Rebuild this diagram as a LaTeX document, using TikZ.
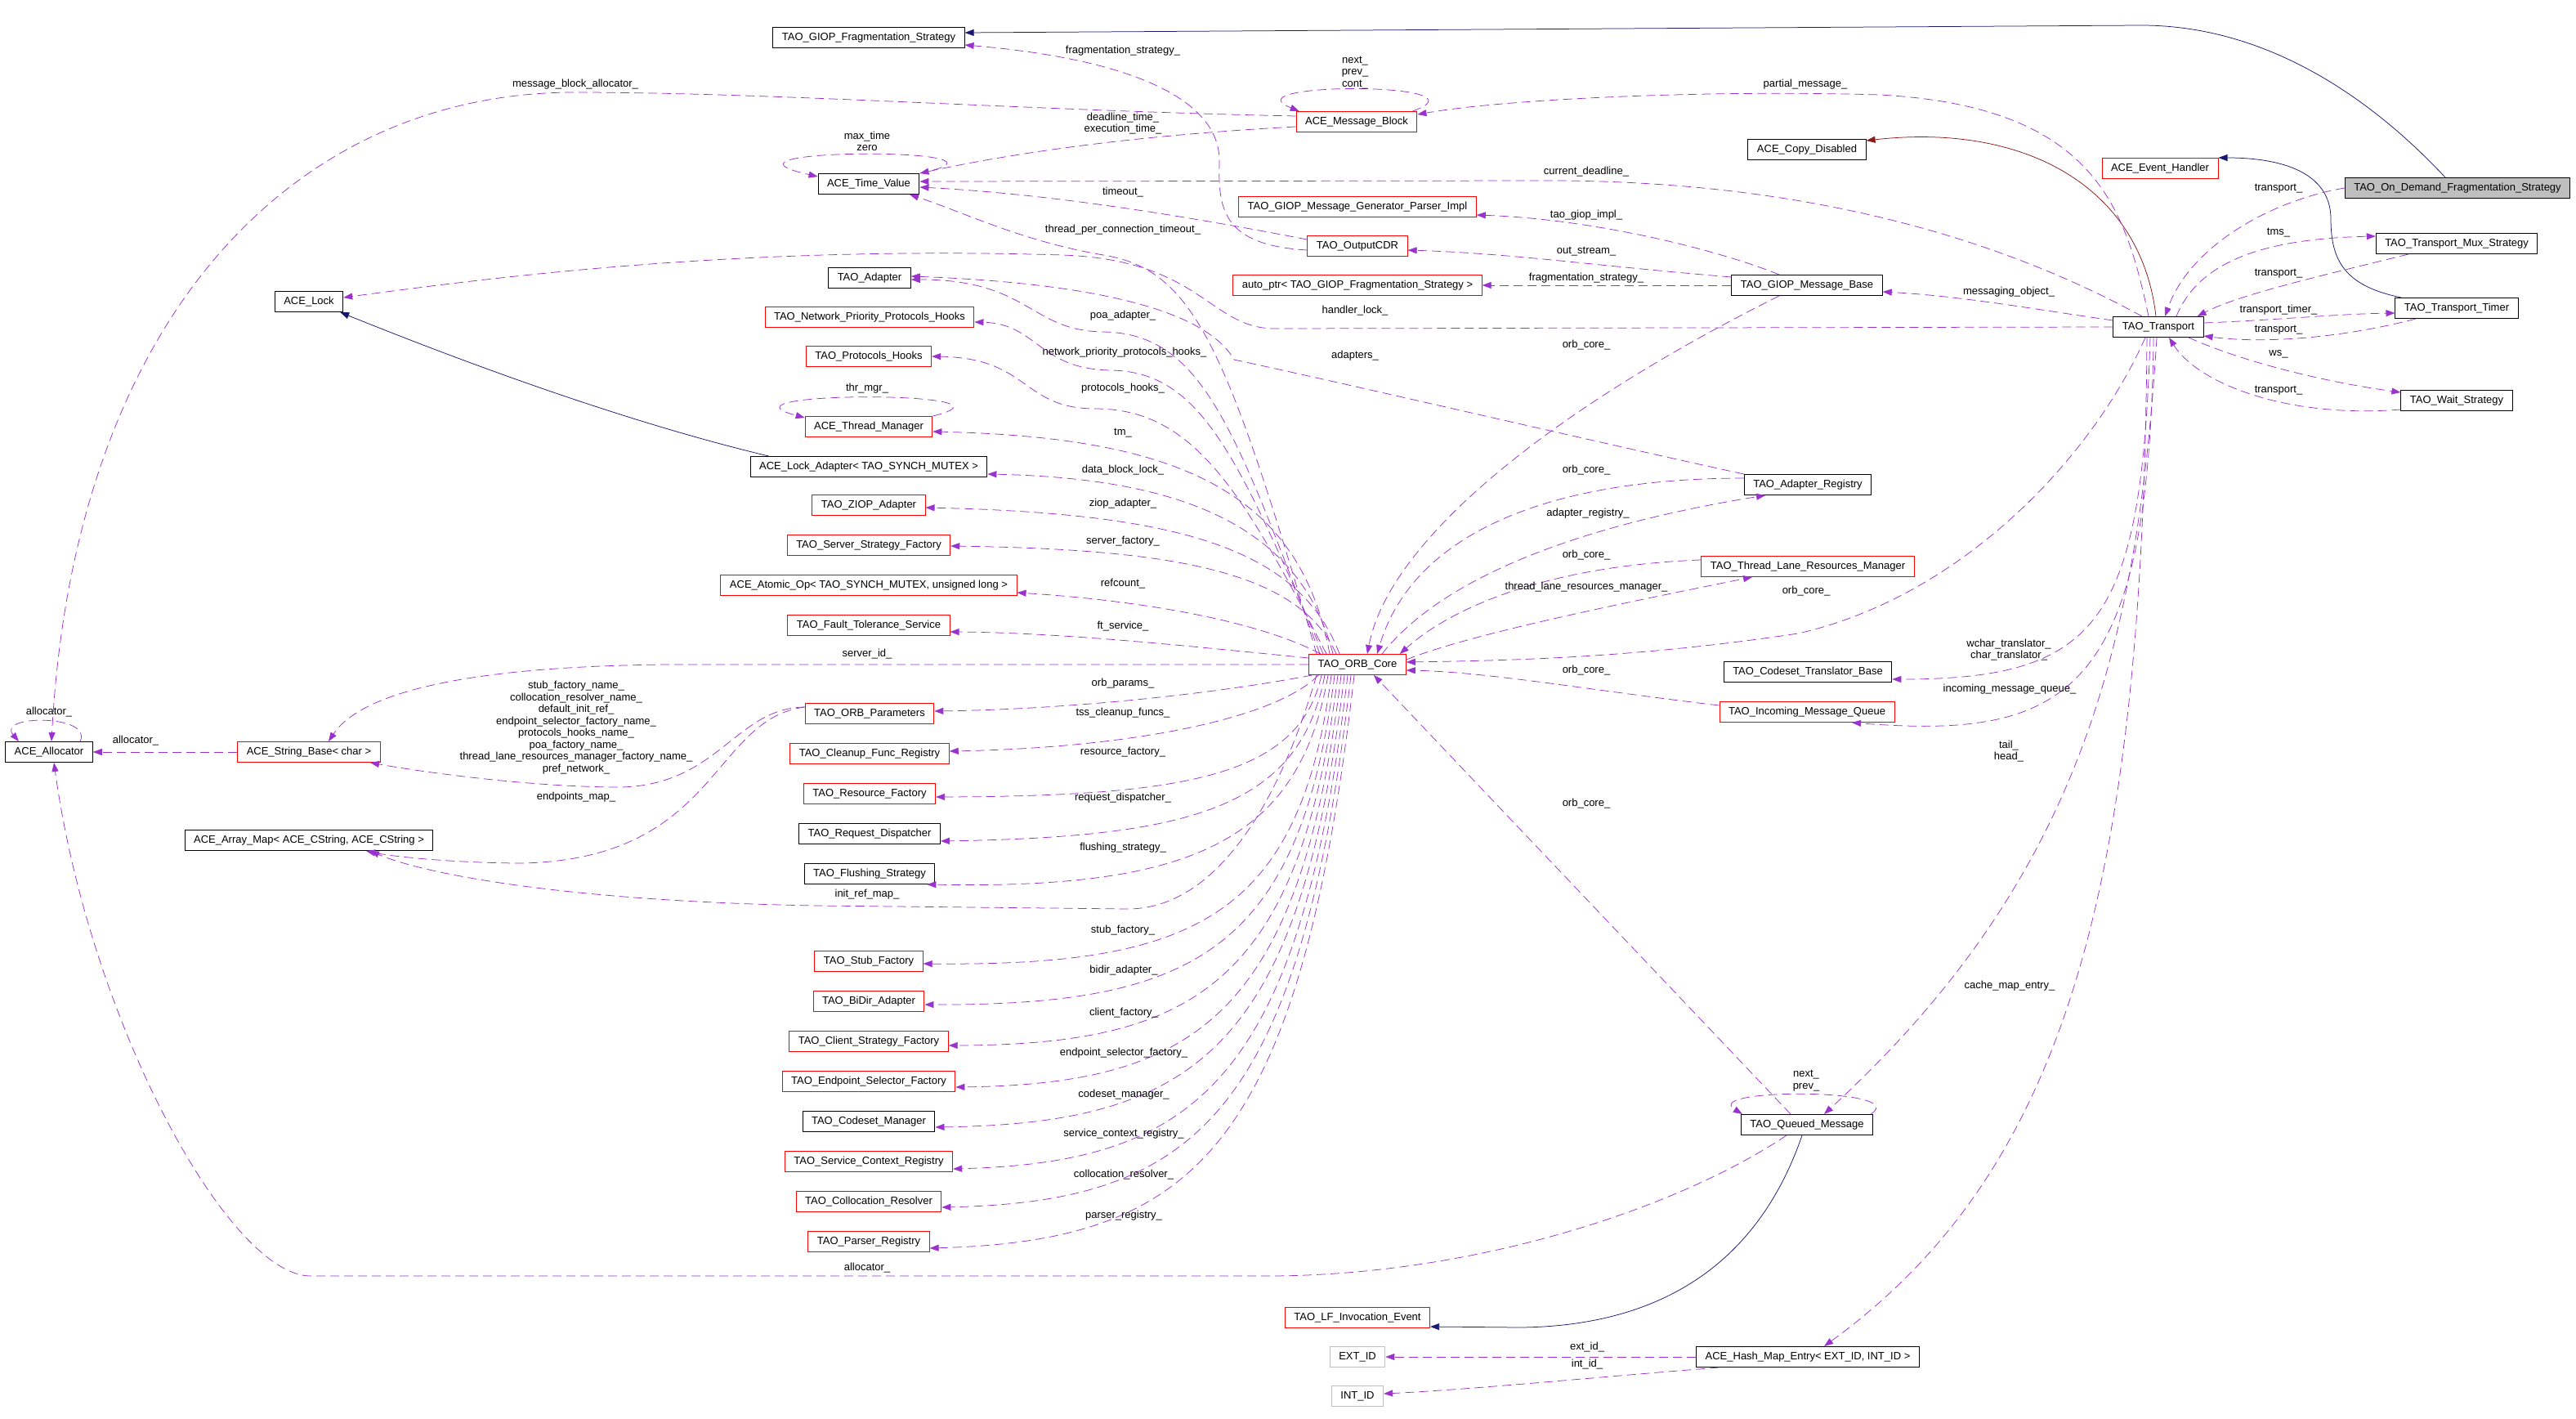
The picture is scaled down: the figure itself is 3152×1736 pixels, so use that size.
\documentclass[tikz,border=0pt]{standalone}
\usepackage{fontspec}
\setmainfont{Liberation Sans}
\usetikzlibrary{arrows.meta,positioning}
\definecolor{usecol}{HTML}{9A32CD}
\definecolor{inhcol}{HTML}{191970}
\definecolor{privcol}{HTML}{8B1A1A}
\definecolor{boxred}{HTML}{FF0000}
\definecolor{boxgrey}{HTML}{BFBFBF}
\newcommand{\diagfont}{\fontsize{13}{14.5}\selectfont}

\begin{document}
\begin{tikzpicture}[
  x=1pt, y=-1pt,
  cls/.style={draw, line width=1pt, fill=white, font=\diagfont, minimum height=25pt, inner xsep=11pt, inner ysep=0pt, text height=9.5pt, text depth=2.8pt},
  redcls/.style={cls, draw=boxred},
  greycls/.style={cls, draw=boxgrey},
  curcls/.style={cls, fill=boxgrey},
  lbl/.style={font=\diagfont, align=center, inner sep=0pt},
  member/.style={draw=usecol, line width=0.75pt, dash pattern=on 11pt off 6pt, -{Triangle[length=11pt,width=8pt]}},
  inh/.style={draw=inhcol, line width=0.75pt, -{Triangle[length=11pt,width=8pt]}},
  privinh/.style={draw=privcol, line width=0.75pt, -{Triangle[length=11pt,width=8pt]}},
  node distance=23pt
]
  \fill[white, use as bounding box] (0,0) rectangle (3152,1736);

  \node[cls] (gfs) at (1063,46) {TAO\_GIOP\_Fragmentation\_Strategy};
  \node[redcls] (amb) at (1660,149) {ACE\_Message\_Block};
  \node[cls] (atv) at (1063,225) {ACE\_Time\_Value};
  \node[redcls] (gmpi) at (1661,253) {TAO\_GIOP\_Message\_Generator\_Parser\_Impl};
  \node[redcls] (ocdr) at (1661,301) {TAO\_OutputCDR};
  \node[cls] (tad) at (1064,340) {TAO\_Adapter};
  \node[redcls] (aptr) at (1661,349) {auto\_ptr< TAO\_GIOP\_Fragmentation\_Strategy >};
  \node[redcls] (npph) at (1064,388) {TAO\_Network\_Priority\_Protocols\_Hooks};
  \node[redcls] (ph) at (1063,436) {TAO\_Protocols\_Hooks};
  \node[redcls] (atm) at (1063,522) {ACE\_Thread\_Manager};
  \node[cls] (ala) at (1063,571) {ACE\_Lock\_Adapter< TAO\_SYNCH\_MUTEX >};
  \node[cls] (alock) at (378,369) {ACE\_Lock};
  \node[redcls] (ziop) at (1063,618) {TAO\_ZIOP\_Adapter};
  \node[redcls, below=of ziop] (ssf) {TAO\_Server\_Strategy\_Factory};
  \node[redcls, below=of ssf] (aop) {ACE\_Atomic\_Op< TAO\_SYNCH\_MUTEX, unsigned long >};
  \node[redcls, below=of aop] (fts) {TAO\_Fault\_Tolerance\_Service};
  \node[redcls] (orb) at (1661,813) {TAO\_ORB\_Core};
  \node[redcls] (opar) at (1064,873) {TAO\_ORB\_Parameters};
  \node[redcls, below=of opar] (cfr) {TAO\_Cleanup\_Func\_Registry};
  \node[redcls, below=of cfr] (rf) {TAO\_Resource\_Factory};
  \node[cls, below=of rf] (rd) {TAO\_Request\_Dispatcher};
  \node[cls, below=of rd] (fs) {TAO\_Flushing\_Strategy};
  \node[redcls] (stub) at (1063,1176) {TAO\_Stub\_Factory};
  \node[redcls, below=of stub] (bidir) {TAO\_BiDir\_Adapter};
  \node[redcls, below=of bidir] (csf) {TAO\_Client\_Strategy\_Factory};
  \node[redcls, below=of csf] (esf) {TAO\_Endpoint\_Selector\_Factory};
  \node[cls, below=of esf] (cm) {TAO\_Codeset\_Manager};
  \node[redcls, below=of cm] (scr) {TAO\_Service\_Context\_Registry};
  \node[redcls, below=of scr] (cr) {TAO\_Collocation\_Resolver};
  \node[redcls, below=of cr] (pr) {TAO\_Parser\_Registry};
  \node[redcls] (lfie) at (1661,1612) {TAO\_LF\_Invocation\_Event};
  \node[greycls] (extid) at (1661,1660) {EXT\_ID};
  \node[greycls] (intid) at (1661,1708) {INT\_ID};
  \node[cls] (aalloc) at (60,920) {ACE\_Allocator};
  \node[redcls] (asb) at (378,920) {ACE\_String\_Base< char >};
  \node[cls] (aam) at (378,1028) {ACE\_Array\_Map< ACE\_CString, ACE\_CString >};
  \node[cls] (acd) at (2211,183) {ACE\_Copy\_Disabled};
  \node[cls] (gmb) at (2211,349) {TAO\_GIOP\_Message\_Base};
  \node[cls] (areg) at (2212,593) {TAO\_Adapter\_Registry};
  \node[redcls] (tlrm) at (2212,693) {TAO\_Thread\_Lane\_Resources\_Manager};
  \node[cls] (ctb) at (2212,822) {TAO\_Codeset\_Translator\_Base};
  \node[redcls] (imq) at (2211,871) {TAO\_Incoming\_Message\_Queue};
  \node[cls] (qm) at (2211,1376) {TAO\_Queued\_Message};
  \node[cls] (hme) at (2212,1660) {ACE\_Hash\_Map\_Entry< EXT\_ID, INT\_ID >};
  \node[redcls] (aeh) at (2643,206) {ACE\_Event\_Handler};
  \node[cls] (trans) at (2641,400) {TAO\_Transport};
  \node[curcls] (odfs) at (3007,230) {TAO\_On\_Demand\_Fragmentation\_Strategy};
  \node[cls] (tms) at (3006,298) {TAO\_Transport\_Mux\_Strategy};
  \node[cls] (ttimer) at (3006,377) {TAO\_Transport\_Timer};
  \node[cls] (ws) at (3006,490) {TAO\_Wait\_Strategy};

  % inheritance
  \draw[inh] ([xshift=-15pt]odfs.north) .. controls (2920,140) and (2790,31) .. (2620,31) -- ([yshift=6pt]gfs.east);
  \draw[inh] ([xshift=-68pt]ttimer.north) .. controls (2870,350) and (2852,320) .. (2852,268) .. controls (2852,210) and (2790,193) .. (aeh.north east);
  \draw[inh] ([xshift=23pt]ala.north west) .. controls (760,515) and (560,440) .. ([xshift=-4pt]alock.south east);
  \draw[inh] ([xshift=-6pt]qm.south) .. controls (2160,1520) and (2060,1622) .. (1860,1624) -- ([yshift=2pt]lfie.south east);
  \draw[privinh] ([xshift=-3pt]trans.north) .. controls (2620,230) and (2480,150) .. ([yshift=-2pt]acd.north east);

  % self references
  \draw[member] ([xshift=-6pt]amb.north east) .. controls (1830,100) and (1500,100) .. ([xshift=4pt]amb.north west) node[lbl] at (1658,89) {next\_\\prev\_\\cont\_};
  \draw[member] (atv.north east) .. controls (1280,180) and (840,180) .. ([yshift=-4pt]atv.north west) node[lbl] at (1061,173) {max\_time\\zero};
  \draw[member] (atm.north east) .. controls (1270,478) and (860,478) .. ([yshift=-2pt]atm.north west) node[lbl] at (1061,475) {thr\_mgr\_};
  \draw[member] ([xshift=38pt]aalloc.north) .. controls (115,874) and (-5,874) .. ([xshift=-37pt]aalloc.north) node[lbl] at (60,871) {allocator\_};
  \draw[member] ([xshift=-3pt]qm.north east) .. controls (2340,1331) and (2080,1331) .. ([xshift=2pt]qm.north west) node[lbl] at (2210,1322) {next\_\\prev\_};

  % message block, time value, output cdr
  \draw[member] ([yshift=-6pt]amb.west) .. controls (1400,165) and (1250,185) .. (atv.north east) node[lbl] at (1374,151) {deadline\_time\_\\execution\_time\_};
  \draw[member] ([yshift=7pt]amb.west) .. controls (1250,135) and (950,113) .. (700,113) .. controls (350,115) and (90,400) .. ([xshift=3pt]aalloc.north) node[lbl] at (704,103) {message\_block\_allocator\_};
  \draw[member] ([yshift=8pt]ocdr.west) .. controls (1480,270) and (1300,238) .. ([yshift=-4pt]atv.east) node[lbl] at (1374,235) {timeout\_};
  \draw[member] ([yshift=-5pt]ocdr.west) .. controls (1500,300) and (1490,260) .. (1492,200) .. controls (1495,120) and (1380,72) .. ([yshift=4pt]gfs.south east) node[lbl] at (1374,62) {fragmentation\_strategy\_};
  \draw[member] (asb.west) -- (aalloc.east) node[lbl] at (166,906) {allocator\_};

  % giop message base
  \draw[member] ([xshift=-34pt]gmb.north) .. controls (2100,305) and (1950,268) .. ([yshift=3pt]gmpi.south east) node[lbl] at (1941,263) {tao\_giop\_impl\_};
  \draw[member] ([yshift=10pt]gmb.west) .. controls (1950,325) and (1850,310) .. ([yshift=-5pt]ocdr.east) node[lbl] at (1941,308) {out\_stream\_};
  \draw[member] (gmb.west) -- (aptr.east) node[lbl] at (1941,340) {fragmentation\_strategy\_};
  \draw[member] ([xshift=-34pt]gmb.south) .. controls (1900,500) and (1700,660) .. ([xshift=12pt]orb.north) node[lbl] at (1941,422) {orb\_core\_};

  % transport
  \draw[member] ([yshift=8pt]trans.west) .. controls (2500,380) and (2400,362) .. ([yshift=-8pt]gmb.east) node[lbl] at (2458,357) {messaging\_object\_};
  \draw[member] (trans.west) -- (1560,402) .. controls (1480,402) and (1470,318) .. (1300,312) .. controls (900,300) and (600,340) .. ([yshift=5pt]alock.east) node[lbl] at (1658,380) {handler\_lock\_};
  \draw[member] ([xshift=-20pt]trans.north) .. controls (2480,310) and (2250,222) .. (1900,221) -- ([yshift=3pt]atv.east) node[lbl] at (1941,210) {current\_deadline\_};
  \draw[member] ([xshift=-12pt]trans.north) .. controls (2600,250) and (2560,130) .. (2300,116) .. controls (2100,110) and (1850,120) .. ([yshift=-4pt]amb.north east) node[lbl] at (2209,103) {partial\_message\_};
  \draw[member] ([xshift=-16pt]trans.south) .. controls (2560,560) and (2400,730) .. (2200,775) .. controls (2000,805) and (1850,808) .. ([yshift=3pt]orb.east) node[lbl] at (2210,723) {orb\_core\_};
  \draw[member] (odfs.west) .. controls (2780,245) and (2680,300) .. ([xshift=8pt]trans.north) node[lbl] at (2788,231) {transport\_};
  \draw[member] ([xshift=22pt]trans.north) .. controls (2690,320) and (2770,292) .. ([yshift=9pt]tms.west) node[lbl] at (2788,285) {tms\_};
  \draw[member] ([xshift=-59pt]tms.south) .. controls (2850,335) and (2740,360) .. ([xshift=-8pt]trans.north east) node[lbl] at (2788,335) {transport\_};
  \draw[member] ([yshift=5pt]trans.east) .. controls (2780,392) and (2860,384) .. ([yshift=-6pt]ttimer.west) node[lbl] at (2788,379) {transport\_timer\_};
  \draw[member] ([xshift=-50pt]ttimer.south) .. controls (2880,410) and (2780,422) .. ([yshift=-11pt]trans.east) node[lbl] at (2788,404) {transport\_};
  \draw[member] ([xshift=37pt]trans.south) .. controls (2750,445) and (2850,468) .. ([yshift=10pt]ws.west) node[lbl] at (2788,433) {ws\_};
  \draw[member] ([yshift=-11pt]ws.west) .. controls (2800,512) and (2690,470) .. ([xshift=13pt]trans.south) node[lbl] at (2788,478) {transport\_};
  \draw[member] ([xshift=-10pt]trans.south) .. controls (2620,760) and (2570,831) .. ([yshift=-9pt]ctb.east) node[lbl] at (2458,795) {wchar\_translator\_\\char\_translator\_};
  \draw[member] ([xshift=-6pt]trans.south) .. controls (2630,850) and (2530,905) .. ([xshift=55pt]imq.south) node[lbl] at (2459,843) {incoming\_message\_queue\_};
  \draw[member] ([xshift=-2pt]trans.south) .. controls (2615,800) and (2540,1080) .. ([xshift=21pt]qm.north) node[lbl] at (2458,919) {tail\_\\head\_};
  \draw[member] ([xshift=-14pt]trans.south) .. controls (2622,1080) and (2530,1430) .. ([xshift=20pt]hme.north) node[lbl] at (2459,1206) {cache\_map\_entry\_};

  % registries, queues, hash map
  \draw[member] ([yshift=8pt]areg.west) .. controls (1900,585) and (1730,650) .. ([xshift=24pt]orb.north) node[lbl] at (1941,575) {orb\_core\_};
  \draw[member] ([xshift=30pt]orb.north) .. controls (1770,700) and (1950,640) .. ([xshift=-52pt]areg.south) node[lbl] at (1943,628) {adapter\_registry\_};
  \draw[member] (areg.north west) .. controls (1950,540) and (1650,470) .. (1510,440) .. controls (1470,370) and (1300,345) .. ([yshift=2pt]tad.east) node[lbl] at (1658,435) {adapters\_};
  \draw[member] ([yshift=8pt]tlrm.west) .. controls (1900,692) and (1780,740) .. ([xshift=-8pt]orb.north east) node[lbl] at (1941,679) {orb\_core\_};
  \draw[member] ([yshift=6pt]orb.east) .. controls (1800,775) and (2000,735) .. ([xshift=-68pt]tlrm.south) node[lbl] at (1941,718) {thread\_lane\_resources\_manager\_};
  \draw[member] ([yshift=8pt]imq.west) .. controls (1950,845) and (1820,822) .. ([yshift=-7pt]orb.east) node[lbl] at (1941,820) {orb\_core\_};
  \draw[member] ([xshift=-20pt]qm.north) -- ([xshift=20pt]orb.south) node[lbl] at (1941,983) {orb\_core\_};
  \draw[member] ([xshift=-25pt]qm.south) .. controls (2050,1480) and (1800,1561) .. (1550,1561) -- (380,1561) .. controls (280,1561) and (110,1250) .. ([xshift=6pt]aalloc.south) node[lbl] at (1061,1551) {allocator\_};
  \draw[member] (hme.west) -- (extid.east) node[lbl] at (1942,1648) {ext\_id\_};
  \draw[member] ([xshift=28pt]hme.south west) .. controls (1950,1685) and (1800,1700) .. ([yshift=3pt]intid.east) node[lbl] at (1942,1669) {int\_id\_};

  % orb core, strings and maps
  \draw[member] (orb.west) -- (820,813) .. controls (560,815) and (440,850) .. ([xshift=24pt]asb.north) node[lbl] at (1061,800) {server\_id\_};
  \draw[member] ([yshift=8pt]opar.west) .. controls (900,866) and (880,960) .. (760,963) .. controls (650,963) and (520,945) .. ([xshift=75pt]asb.south) node[lbl] at (705,890) {stub\_factory\_name\_\\collocation\_resolver\_name\_\\default\_init\_ref\_\\endpoint\_selector\_factory\_name\_\\protocols\_hooks\_name\_\\poa\_factory\_name\_\\thread\_lane\_resources\_manager\_factory\_name\_\\pref\_network\_};
  \draw[member] ([yshift=8pt]opar.west) .. controls (870,880) and (880,1050) .. (640,1056) .. controls (560,1056) and (480,1048) .. ([xshift=70pt]aam.south) node[lbl] at (705,975) {endpoints\_map\_};
  \draw[member] ([xshift=-50pt]orb.south) .. controls (1560,1000) and (1480,1112) .. (1380,1112) -- (1000,1108) .. controls (700,1103) and (520,1070) .. ([xshift=75pt]aam.south) node[lbl] at (1061,1094) {init\_ref\_map\_};

  % orb core, upper members
  \draw[member] ([xshift=-50pt]orb.north) .. controls (1500,420) and (1460,330) .. (1350,312) .. controls (1250,295) and (1180,260) .. ([xshift=50pt]atv.south) node[lbl] at (1374,281) {thread\_per\_connection\_timeout\_};
  \draw[member] ([xshift=-46pt]orb.north) .. controls (1510,520) and (1470,408) .. (1350,406) .. controls (1260,405) and (1260,342) .. ([yshift=-2pt]tad.east) node[lbl] at (1374,386) {poa\_adapter\_};
  \draw[member] ([xshift=-42pt]orb.north) .. controls (1515,560) and (1470,455) .. (1360,453) .. controls (1270,452) and (1270,396) .. ([yshift=-6pt]npph.east) node[lbl] at (1376,431) {network\_priority\_protocols\_hooks\_};
  \draw[member] ([xshift=-38pt]orb.north) .. controls (1520,600) and (1460,500) .. (1340,500) .. controls (1250,500) and (1260,438) .. (ph.east) node[lbl] at (1374,475) {protocols\_hooks\_};
  \draw[member] ([xshift=-34pt]orb.north) .. controls (1590,600) and (1440,535) .. ([yshift=-6pt]atm.east) node[lbl] at (1374,530) {tm\_};
  \draw[member] ([xshift=-30pt]orb.north) .. controls (1590,640) and (1440,585) .. ([yshift=-9pt]ala.east) node[lbl] at (1374,575) {data\_block\_lock\_};
  \draw[member] ([xshift=-22pt]orb.north) .. controls (1590,670) and (1440,628) .. ([yshift=-3pt]ziop.east) node[lbl] at (1374,616) {ziop\_adapter\_};
  \draw[member] ([xshift=-26pt]orb.north) .. controls (1590,700) and (1440,672) .. ([yshift=-1pt]ssf.east) node[lbl] at (1374,662) {server\_factory\_};
  \draw[member] ([xshift=-45pt]orb.north) .. controls (1540,760) and (1400,735) .. ([yshift=-9pt]aop.east) node[lbl] at (1374,714) {refcount\_};
  \draw[member] ([yshift=8pt]orb.west) .. controls (1450,790) and (1300,774) .. ([yshift=-8pt]fts.east) node[lbl] at (1374,766) {ft\_service\_};

  % orb core, lower members
  \draw[member] ([xshift=4pt]orb.south west) .. controls (1480,850) and (1300,868) .. ([yshift=3pt]opar.east) node[lbl] at (1374,836) {orb\_params\_};
  \draw[member] ([xshift=12pt]orb.south west) .. controls (1560,880) and (1380,915) .. ([yshift=3pt]cfr.east) node[lbl] at (1374,872) {tss\_cleanup\_funcs\_};
  \draw[member] ([xshift=-44pt]orb.south) .. controls (1590,947) and (1460,974) .. ([yshift=-4pt]rf.east) node[lbl] at (1374,920) {resource\_factory\_};
  \draw[member] ([xshift=-40pt]orb.south) .. controls (1590,987) and (1460,1024) .. ([yshift=-9pt]rd.east) node[lbl] at (1374,976) {request\_dispatcher\_};
  \draw[member] ([xshift=-36pt]orb.south) .. controls (1590,1028) and (1460,1088) .. ([xshift=-10pt]fs.south east) node[lbl] at (1374,1037) {flushing\_strategy\_};
  \draw[member] ([xshift=-32pt]orb.south) .. controls (1590,1123) and (1460,1182) .. ([yshift=-3pt]stub.east) node[lbl] at (1374,1138) {stub\_factory\_};
  \draw[member] ([xshift=-28pt]orb.south) .. controls (1590,1164) and (1460,1230) .. ([yshift=-4pt]bidir.east) node[lbl] at (1375,1187) {bidir\_adapter\_};
  \draw[member] ([xshift=-24pt]orb.south) .. controls (1590,1205) and (1460,1278) .. ([yshift=-5pt]csf.east) node[lbl] at (1375,1239) {client\_factory\_};
  \draw[member] ([xshift=-20pt]orb.south) .. controls (1590,1246) and (1460,1326) .. ([yshift=-7pt]esf.east) node[lbl] at (1375,1288) {endpoint\_selector\_factory\_};
  \draw[member] ([xshift=-16pt]orb.south) .. controls (1590,1287) and (1460,1374) .. ([yshift=-7pt]cm.east) node[lbl] at (1375,1339) {codeset\_manager\_};
  \draw[member] ([xshift=-12pt]orb.south) .. controls (1590,1327) and (1460,1422) .. ([yshift=-9pt]scr.east) node[lbl] at (1375,1387) {service\_context\_registry\_};
  \draw[member] ([xshift=-8pt]orb.south) .. controls (1590,1368) and (1460,1470) .. ([yshift=-7pt]cr.east) node[lbl] at (1375,1437) {collocation\_resolver\_};
  \draw[member] ([xshift=-4pt]orb.south) .. controls (1590,1409) and (1460,1518) .. ([yshift=-8pt]pr.east) node[lbl] at (1375,1487) {parser\_registry\_};
\end{tikzpicture}
\end{document}
